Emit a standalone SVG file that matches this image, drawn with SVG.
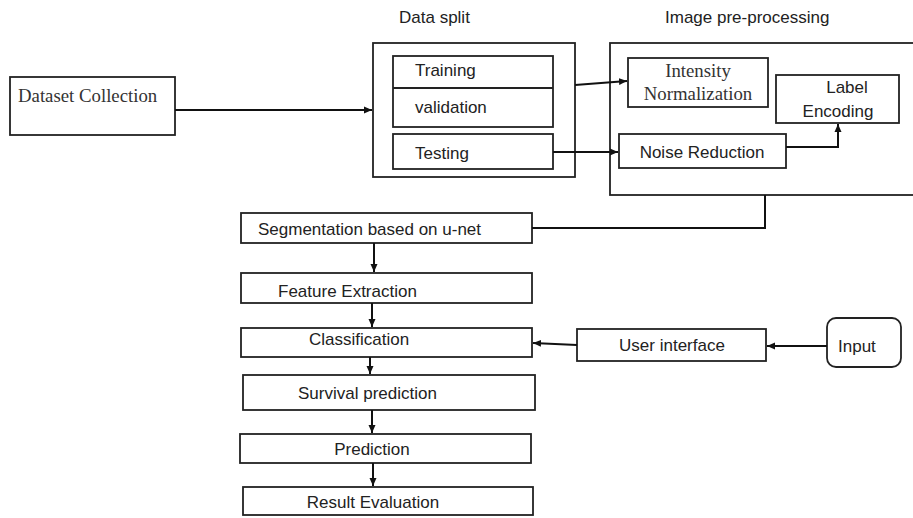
<svg xmlns="http://www.w3.org/2000/svg" width="913" height="518" viewBox="0 0 913 518">
<style>
.box{fill:#fff;stroke:#222;stroke-width:1.8}
.s{font-family:"Liberation Sans","Open Sans",sans-serif;font-size:17px;fill:#222}
.r{font-family:"Liberation Serif","DejaVu Serif",serif;font-size:18.8px;fill:#333}
.c{fill:none;stroke:#111;stroke-width:2}
</style>
<defs>
<marker id="ah" markerUnits="userSpaceOnUse" markerWidth="8" markerHeight="8" refX="8" refY="4" orient="auto">
<path d="M0,0.5 L8,4 L0,7.5 z" fill="#111"/>
</marker>
</defs>
<rect width="913" height="518" fill="#fff"/>

<g id="titles">
<text class="s" x="399" y="23">Data split</text>
<text class="s" x="665" y="23">Image pre-processing</text>
</g>

<g id="dataset">
<rect class="box" x="10" y="77" width="165" height="58"/>
<text class="r" x="18" y="102">Dataset Collection</text>
</g>

<g id="datasplit">
<rect class="box" x="373" y="43" width="202" height="134"/>
</g>
<g id="training">
<rect class="box" x="393" y="56" width="160" height="71"/>
<line x1="393" y1="88" x2="553" y2="88" stroke="#222" stroke-width="1.8"/>
<text class="s" x="415" y="76">Training</text>
<text class="s" x="415" y="113">validation</text>
</g>
<g id="testing">
<rect class="box" x="393" y="134" width="160" height="35"/>
<text class="s" x="415" y="159">Testing</text>
</g>

<g id="preprocessing">
<rect class="box" x="610" y="43" width="305" height="152"/>
</g>
<g id="intensity">
<rect class="box" x="628" y="58" width="140" height="49"/>
<text class="r" x="698" y="77" text-anchor="middle" font-size="18.5">Intensity</text>
<text class="r" x="698" y="100" text-anchor="middle" font-size="18.5">Normalization</text>
</g>
<g id="label">
<rect class="box" x="776" y="75" width="123" height="48"/>
<text class="s" x="847" y="93" text-anchor="middle">Label</text>
<text class="s" x="838" y="117" text-anchor="middle">Encoding</text>
</g>
<g id="noise">
<rect class="box" x="619" y="134" width="167" height="34"/>
<text class="s" x="702" y="158" text-anchor="middle">Noise Reduction</text>
</g>

<g id="segmentation">
<rect class="box" x="241" y="213" width="291" height="30"/>
<text class="s" x="258" y="235">Segmentation based on u-net</text>
</g>
<g id="feature">
<rect class="box" x="241" y="273" width="291" height="30"/>
<text class="s" x="278" y="297">Feature Extraction</text>
</g>
<g id="classification">
<rect class="box" x="241" y="328" width="291" height="29"/>
<text class="s" x="309" y="345">Classification</text>
</g>
<g id="survival">
<rect class="box" x="243" y="375" width="292" height="35"/>
<text class="s" x="298" y="399">Survival prediction</text>
</g>
<g id="prediction">
<rect class="box" x="240" y="434" width="291" height="29"/>
<text class="s" x="372" y="455" text-anchor="middle">Prediction</text>
</g>
<g id="result">
<rect class="box" x="243" y="487" width="290" height="28"/>
<text class="s" x="373" y="508" text-anchor="middle">Result Evaluation</text>
</g>

<g id="userinterface">
<rect class="box" x="577" y="329" width="189" height="32"/>
<text class="s" x="672" y="351" text-anchor="middle">User interface</text>
</g>
<g id="input">
<rect class="box" x="827" y="318" width="74" height="49" rx="9"/>
<text class="s" x="838" y="352">Input</text>
</g>

<g id="connectors">
<path class="c" d="M175,110 H372" marker-end="url(#ah)"/>
<path class="c" d="M575,85 L627,81" marker-end="url(#ah)"/>
<path class="c" d="M553,152 H618" marker-end="url(#ah)"/>
<path class="c" d="M786,147 H838 V124" marker-end="url(#ah)"/>
<path class="c" d="M765,195 V228 H532"/>
<path class="c" d="M374,243 V272" marker-end="url(#ah)"/>
<path class="c" d="M372,303 V327" marker-end="url(#ah)"/>
<path class="c" d="M370,357 V374" marker-end="url(#ah)"/>
<path class="c" d="M372,410 V433" marker-end="url(#ah)"/>
<path class="c" d="M373,463 V486" marker-end="url(#ah)"/>
<path class="c" d="M827,346 H767" marker-end="url(#ah)"/>
<path class="c" d="M577,345 L533,343" marker-end="url(#ah)"/>
</g>
</svg>
